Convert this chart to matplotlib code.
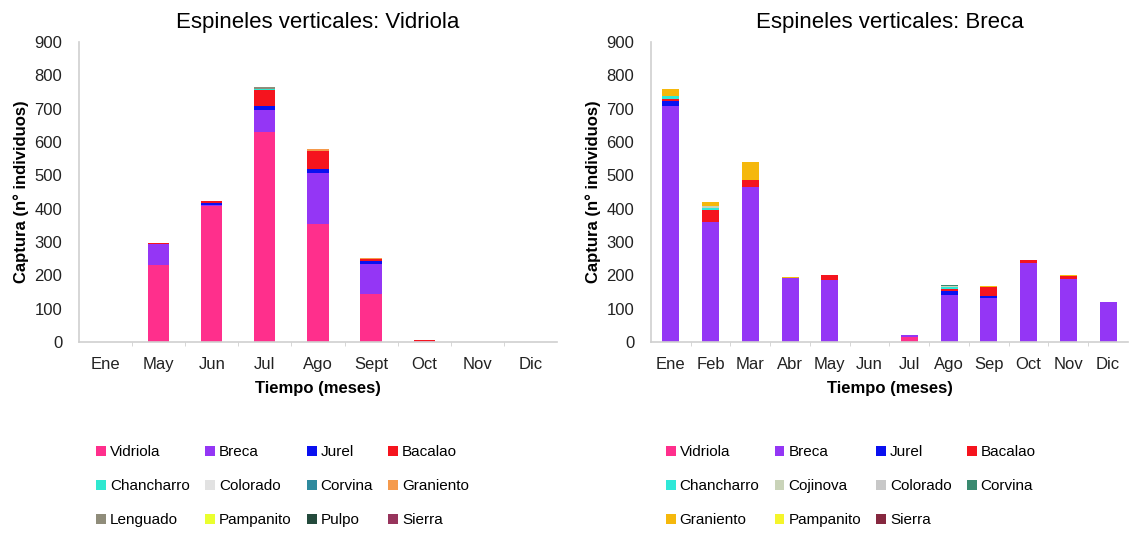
import matplotlib
matplotlib.use("Agg")
import matplotlib.pyplot as plt
import numpy as np
from matplotlib.patches import Patch

plt.rcParams['font.family'] = ['Liberation Sans', 'DejaVu Sans']

# captures per month, vertical longlines targeting Vidriola
meses_vid = ['Ene', 'May', 'Jun', 'Jul', 'Ago', 'Sept', 'Oct', 'Nov', 'Dic']
vid_vidriola = [0, 230, 407, 630, 355, 145, 3, 0, 0]
vid_breca = [0, 63, 3, 67, 151, 88, 0, 0, 0]
vid_jurel = [0, 1, 6, 12, 14, 10, 0, 0, 0]
vid_bacalao = [0, 4, 6, 48, 52, 6, 2, 0, 0]
vid_chancharro = [0, 0, 0, 1, 0, 0, 0, 0, 0]
vid_colorado = [0, 0, 0, 0, 0, 0, 0, 0, 0]
vid_corvina = [0, 0, 0, 0, 0, 0, 0, 0, 0]
vid_graniento = [0, 0, 0, 2, 6, 3, 0, 0, 0]
vid_lenguado = [0, 0, 0, 5, 0, 0, 0, 0, 0]
vid_pampanito = [0, 0, 0, 0, 2, 0, 0, 0, 0]
vid_pulpo = [0, 0, 0, 0, 0, 0, 0, 0, 0]
vid_sierra = [0, 0, 0, 1, 0, 0, 0, 0, 0]

# captures per month, vertical longlines targeting Breca
meses_bre = ['Ene', 'Feb', 'Mar', 'Abr', 'May', 'Jun', 'Jul', 'Ago', 'Sep', 'Oct', 'Nov', 'Dic']
bre_vidriola = [0, 0, 0, 0, 0, 0, 14, 0, 0, 0, 0, 0]
bre_breca = [708, 359, 466, 191, 187, 0, 6, 141, 132, 237, 190, 121]
bre_jurel = [14, 0, 0, 0, 0, 0, 2, 13, 5, 0, 0, 0]
bre_bacalao = [8, 38, 19, 0, 15, 0, 0, 6, 28, 8, 8, 0]
bre_chancharro = [7, 6, 0, 0, 0, 0, 0, 5, 0, 0, 0, 0]
bre_cojinova = [0, 5, 0, 0, 0, 0, 0, 2, 0, 0, 0, 0]
bre_colorado = [0, 0, 0, 0, 0, 0, 0, 0, 0, 0, 0, 0]
bre_corvina = [0, 0, 0, 0, 0, 0, 0, 3, 0, 0, 0, 0]
bre_graniento = [22, 13, 55, 4, 0, 0, 0, 0, 2, 2, 2, 0]
bre_pampanito = [0, 0, 0, 0, 0, 0, 0, 0, 0, 0, 0, 0]
bre_sierra = [0, 0, 0, 0, 0, 0, 0, 0, 0, 0, 0, 0]

series_vid = [
    ('Vidriola', vid_vidriola, '#ff2f8c'),
    ('Breca', vid_breca, '#9436f5'),
    ('Jurel', vid_jurel, '#0a10f0'),
    ('Bacalao', vid_bacalao, '#f5141e'),
    ('Chancharro', vid_chancharro, '#2fe8d0'),
    ('Colorado', vid_colorado, '#e2e2e2'),
    ('Corvina', vid_corvina, '#2f8a9e'),
    ('Graniento', vid_graniento, '#f59a4c'),
    ('Lenguado', vid_lenguado, '#8f8c7a'),
    ('Pampanito', vid_pampanito, '#eaff2e'),
    ('Pulpo', vid_pulpo, '#244a3c'),
    ('Sierra', vid_sierra, '#97345c'),
]

series_bre = [
    ('Vidriola', bre_vidriola, '#ff2f8c'),
    ('Breca', bre_breca, '#9436f5'),
    ('Jurel', bre_jurel, '#0a10f0'),
    ('Bacalao', bre_bacalao, '#f5141e'),
    ('Chancharro', bre_chancharro, '#2fe8d8'),
    ('Cojinova', bre_cojinova, '#c9d3b8'),
    ('Colorado', bre_colorado, '#c8c8c8'),
    ('Corvina', bre_corvina, '#3a8a70'),
    ('Graniento', bre_graniento, '#f5b80c'),
    ('Pampanito', bre_pampanito, '#f5f52a'),
    ('Sierra', bre_sierra, '#86283f'),
]


def stacked(ax, meses, series, width, title):
    x = np.arange(len(meses))
    bottom = np.zeros(len(meses))
    for name, vals, color in series:
        vals = np.array(vals, dtype=float)
        ax.bar(x, vals, width, bottom=bottom, color=color, linewidth=0)
        bottom += vals
    ax.set_xlim(-0.5, len(meses) - 0.5)
    ax.set_ylim(0, 900)
    ax.set_yticks(np.arange(0, 901, 100))
    ax.set_xticks(x)
    ax.set_xticklabels(meses)
    ax.set_xticks(np.arange(0.5, len(meses) - 1, 1), minor=True)
    ax.tick_params(axis='x', which='major', length=0, pad=11, labelsize=12, colors='#222222')
    ax.tick_params(axis='x', which='minor', length=3, color='#d0d0d0')
    ax.tick_params(axis='y', length=0, pad=12, labelsize=12, colors='#222222')
    for s in ['top', 'right']:
        ax.spines[s].set_visible(False)
    for s in ['left', 'bottom']:
        ax.spines[s].set_color('#cfcfcf')
        ax.spines[s].set_linewidth(1.2)
    ax.set_title(title, fontsize=16, pad=10)
    ax.set_xlabel('Tiempo (meses)', fontsize=12, fontweight='bold', labelpad=6)
    ax.set_ylabel('Captura (n° individuos)', fontsize=12, fontweight='bold', labelpad=4)


def leyenda(fig, series, x0, y0):
    # legend is filled column by column, so reorder rows of four
    n = len(series)
    order = []
    for c in range(4):
        order += list(range(c, n, 4))
    handles = [Patch(facecolor=series[i][2], edgecolor='none') for i in order]
    labels = [series[i][0] for i in order]
    fig.legend(handles, labels, ncol=4, loc='upper left', bbox_to_anchor=(x0, y0),
               frameon=False, fontsize=11, handlelength=0.65, handleheight=0.65,
               handletextpad=0.25, columnspacing=1.0, labelspacing=1.3)


fig = plt.figure(figsize=(11.3, 5.33), dpi=100)
ax1 = fig.add_axes([0.0699, 0.3583, 0.4230, 0.5629])
ax2 = fig.add_axes([0.5761, 0.3583, 0.4221, 0.5629])

stacked(ax1, meses_vid, series_vid, 0.4, 'Espineles verticales: Vidriola')
stacked(ax2, meses_bre, series_bre, 0.43, 'Espineles verticales: Breca')

leyenda(fig, series_vid, 0.073, 0.190)
leyenda(fig, series_bre, 0.577, 0.190)

fig.savefig('out.png', dpi=100, facecolor='white')
